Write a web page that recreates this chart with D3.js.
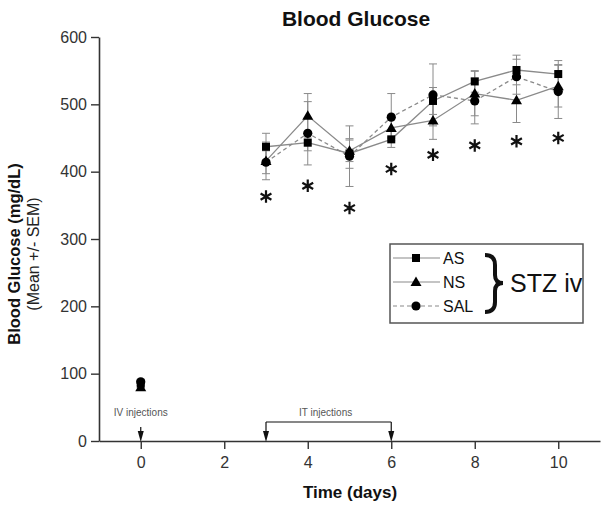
<!DOCTYPE html>
<html><head><meta charset="utf-8">
<script src="https://cdn.jsdelivr.net/npm/d3@7"></script>
<style>body{margin:0;background:#fff}svg{display:block}text{font-family:Arial,"Liberation Sans",Helvetica,sans-serif}</style>
</head><body><svg id="c" width="604" height="510"></svg>
<script>
const days   = [0, 3, 4, 5, 6, 7, 8, 9, 10];
const AS     = [85, 437, 443, 427, 448, 505, 534, 551, 545];
const AS_sem = [3, 20, 12, 22, 12, 20, 16, 22, 20];
const NS     = [80, 416, 483, 431, 465, 476, 516, 506, 527];
const NS_sem = [3, 28, 33, 16, 15, 28, 33, 33, 31];
const SAL    = [88, 414, 457, 423, 481, 514, 505, 541, 519];
const SAL_sem= [3, 17, 47, 45, 35, 46, 34, 26, 40];
const starDays = [3, 4, 5, 6, 7, 8, 9, 10];
const starVals = [363, 379, 346, 404, 425, 439, 445, 450];
const yTicks = [0, 100, 200, 300, 400, 500, 600];
const xTicks = [0, 2, 4, 6, 8, 10];
const lineStart = 3;
const ivDay = 0, itStart = 3, itEnd = 6;

const series = [
  {name:"AS", vals:AS, sem:AS_sem, shape:"square", dash:null},
  {name:"NS", vals:NS, sem:NS_sem, shape:"triangle", dash:null},
  {name:"SAL", vals:SAL, sem:SAL_sem, shape:"circle", dash:"4,3"}
];

const svg = d3.select("#c");
const x = d3.scaleLinear().domain([-1, 11]).range([99, 600]);
const y = d3.scaleLinear().domain([0, 600]).range([441, 37]);
const grey = "#8a8a8a", axisCol = "#333";

// axes
const gy = svg.append("g").attr("transform","translate(99,0)")
  .call(d3.axisLeft(y).tickValues(yTicks).tickSize(8).tickSizeOuter(0).tickPadding(4));
const gx = svg.append("g").attr("transform","translate(0,441)")
  .call(d3.axisBottom(x).tickValues(xTicks).tickSize(8).tickSizeOuter(0).tickPadding(8));
[gx, gy].forEach(g=>{
  g.selectAll("path.domain").attr("stroke",axisCol).attr("stroke-width",1.6);
  g.selectAll(".tick line").attr("stroke",axisCol).attr("stroke-width",1.4);
  g.selectAll(".tick text").attr("fill","#333").style("font-size","16px")
   .style("font-family",'Arial,"Liberation Sans",sans-serif');
});

// titles
svg.append("text").attr("x",356).attr("y",26).attr("text-anchor","middle")
  .style("font-size","21px").style("font-weight","bold").attr("fill","#111").text("Blood Glucose");
svg.append("text").attr("x",350).attr("y",498).attr("text-anchor","middle")
  .style("font-size","17px").style("font-weight","bold").attr("fill","#111").text("Time (days)");
svg.append("text").attr("transform","translate(20,254) rotate(-90)").attr("text-anchor","middle")
  .style("font-size","16.5px").style("font-weight","bold").attr("fill","#111").text("Blood Glucose (mg/dL)");
svg.append("text").attr("transform","translate(39,254) rotate(-90)").attr("text-anchor","middle")
  .style("font-size","16px").attr("fill","#222").text("(Mean +/- SEM)");

// markers
function marker(g, shape, cx, cy){
  if(shape==="square") g.append("rect").attr("x",cx-4).attr("y",cy-4).attr("width",8).attr("height",8).attr("fill","#000");
  else if(shape==="triangle") g.append("path").attr("d",`M${cx},${cy-5.5}L${cx+5.5},${cy+4}L${cx-5.5},${cy+4}Z`).attr("fill","#000");
  else g.append("circle").attr("cx",cx).attr("cy",cy).attr("r",4.6).attr("fill","#000");
}

// error bars
series.forEach(s=>{
  const g = svg.append("g");
  days.forEach((d,i)=>{
    const cx = x(d), hi = y(s.vals[i]+s.sem[i]), lo = y(s.vals[i]-s.sem[i]);
    g.append("line").attr("x1",cx).attr("x2",cx).attr("y1",hi).attr("y2",lo).attr("stroke",grey).attr("stroke-width",1);
    [hi,lo].forEach(yy=>g.append("line").attr("x1",cx-4).attr("x2",cx+4).attr("y1",yy).attr("y2",yy).attr("stroke",grey).attr("stroke-width",1));
  });
});
// lines
series.forEach(s=>{
  const pts = days.map((d,i)=>[d,s.vals[i]]).filter(p=>p[0]>=lineStart);
  svg.append("path").datum(pts).attr("fill","none").attr("stroke",grey).attr("stroke-width",1.3)
    .attr("stroke-dasharray",s.dash).attr("d",d3.line().x(p=>x(p[0])).y(p=>y(p[1])));
});
series.forEach(s=>{
  const g = svg.append("g");
  days.forEach((d,i)=>marker(g, s.shape, x(d), y(s.vals[i])));
});

// stars
const star = d3.symbol().type(d3.symbolAsterisk).size(110);
svg.append("g").selectAll("path").data(starDays.map((d,i)=>[d,starVals[i]])).join("path")
  .attr("transform",p=>`translate(${x(p[0])},${y(p[1])})`).attr("d",star)
  .attr("fill","none").attr("stroke","#111").attr("stroke-width",2.2);

// injection annotations
const ann = svg.append("g");
function arrowDown(xx, y1){
  ann.append("line").attr("x1",xx).attr("x2",xx).attr("y1",y1).attr("y2",433).attr("stroke","#111").attr("stroke-width",1.2);
  ann.append("path").attr("d",`M${xx-3},${431}L${xx+3},${431}L${xx},${442}Z`).attr("fill","#111");
}
arrowDown(x(ivDay), 427);
ann.append("text").attr("x",x(ivDay)).attr("y",416).attr("text-anchor","middle").style("font-size","10px").attr("fill","#555").text("IV injections");
ann.append("line").attr("x1",x(itStart)).attr("x2",x(itEnd)).attr("y1",422).attr("y2",422).attr("stroke","#111").attr("stroke-width",1.2);
arrowDown(x(itStart), 422);
arrowDown(x(itEnd), 422);
ann.append("text").attr("x",(x(itStart)+x(itEnd))/2-3).attr("y",416).attr("text-anchor","middle").style("font-size","10px").attr("fill","#555").text("IT injections");

// legend
const lg = svg.append("g");
lg.append("rect").attr("x",390).attr("y",244).attr("width",193).attr("height",79).attr("fill","#fff").attr("stroke","#555").attr("stroke-width",1.5);
series.forEach((s,i)=>{
  const yy = 258 + i*24;
  lg.append("line").attr("x1",393).attr("x2",440).attr("y1",yy).attr("y2",yy).attr("stroke",grey).attr("stroke-width",1.2).attr("stroke-dasharray",s.dash);
  marker(lg, s.shape, 416, yy);
  lg.append("text").attr("x",443).attr("y",yy+6).style("font-size","16px").attr("fill","#111").text(s.name);
});
lg.append("path").attr("d","M485,255 Q495,255 495,265 L495,275 Q495,283 503,283 Q495,283 495,291 L495,302 Q495,312 485,312")
  .attr("fill","none").attr("stroke","#111").attr("stroke-width",4);
lg.append("text").attr("x",510).attr("y",292).style("font-size","25px").attr("fill","#111").text("STZ iv");
</script></body></html>
